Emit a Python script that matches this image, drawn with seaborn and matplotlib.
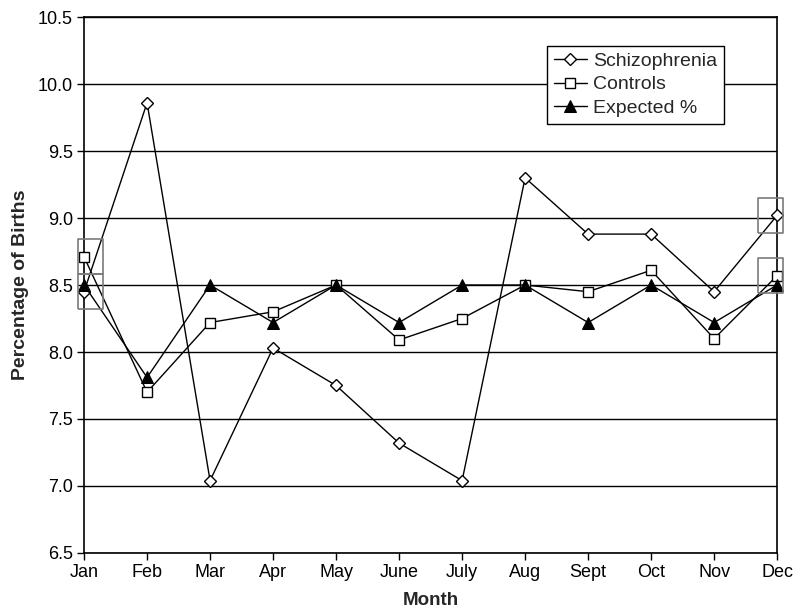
import numpy as np
import pandas as pd
import matplotlib
matplotlib.use("Agg")
import matplotlib.pyplot as plt
import matplotlib.transforms as mtransforms
import seaborn as sns
from matplotlib.path import Path

# ---- data ----
months = ['Jan', 'Feb', 'Mar', 'Apr', 'May', 'June', 'July', 'Aug', 'Sept', 'Oct', 'Nov', 'Dec']
schizophrenia = [8.45, 9.86, 7.04, 8.03, 7.75, 7.32, 7.04, 9.30, 8.88, 8.88, 8.45, 9.02]
controls = [8.71, 7.70, 8.22, 8.30, 8.50, 8.09, 8.25, 8.50, 8.45, 8.61, 8.10, 8.57]
expected = [8.50, 7.81, 8.50, 8.22, 8.50, 8.22, 8.50, 8.50, 8.22, 8.50, 8.22, 8.50]

# grey highlight boxes around the end points
box_jan = [8.71, 8.45]
box_dec = [9.02, 8.57]

y_ticks = np.arange(6.5, 10.51, 0.5)

sns.set_theme(style="white")
plt.rcParams['font.family'] = ['Liberation Sans', 'DejaVu Sans']

fig = plt.figure(figsize=(7.93, 6.09), dpi=100)
ax = fig.add_axes([0.106, 0.092, 0.874, 0.880])

df = pd.DataFrame({'Month': months, 'Schizophrenia': schizophrenia,
                   'Controls': controls, 'Expected %': expected})

sns.lineplot(data=df, x='Month', y='Schizophrenia', ax=ax, color='black', lw=1,
             marker='D', markersize=6.5, markerfacecolor='white', markeredgecolor='black',
             markeredgewidth=1, label='Schizophrenia', zorder=4, clip_on=False)
sns.lineplot(data=df, x='Month', y='Controls', ax=ax, color='black', lw=1,
             marker='s', markersize=7.5, markerfacecolor='white', markeredgecolor='black',
             markeredgewidth=1, label='Controls', zorder=4, clip_on=False)
sns.lineplot(data=df, x='Month', y='Expected %', ax=ax, color='black', lw=1,
             marker='^', markersize=8.5, markerfacecolor='black', markeredgecolor='black',
             label='Expected %', zorder=5, clip_on=False)

# tall rectangle marker for the highlight boxes, nudged a little inward
rect = Path([(-0.36, -0.5), (0.36, -0.5), (0.36, 0.5), (-0.36, 0.5), (-0.36, -0.5)])
for xpos, vals, dx in [(0, box_jan, 4.5), (len(months) - 1, box_dec, -5)]:
    shift = mtransforms.ScaledTranslation(dx / 72, 0, fig.dpi_scale_trans)
    ax.scatter([xpos] * len(vals), vals, marker=rect, s=640, facecolors='none',
               edgecolors='#7a7a7a', linewidths=1.2, zorder=6, clip_on=False,
               transform=ax.transData + shift)

ax.set_xlim(0, len(months) - 1)
ax.set_ylim(6.5, 10.5)
ax.set_yticks(y_ticks)
ax.set_yticklabels([f'{v:.1f}' for v in y_ticks])
ax.set_xticks(range(len(months)))
ax.set_xticklabels(months)

ax.grid(axis='y', color='black', lw=1)
ax.grid(axis='x', visible=False)
ax.set_axisbelow(True)
for s in ax.spines.values():
    s.set_color('black')
    s.set_linewidth(1.2)

ax.tick_params(axis='both', which='major', direction='out', length=5, width=1,
               color='black', labelsize=13, labelcolor='black', pad=3,
               bottom=True, left=True)

ax.set_xlabel('Month', fontsize=13.5, fontweight='bold', labelpad=8)
ax.set_ylabel('Percentage of Births', fontsize=14, fontweight='bold', labelpad=6)

leg = ax.legend(loc='upper right', bbox_to_anchor=(0.937, 0.965), frameon=True,
                fancybox=False, framealpha=1, edgecolor='black', fontsize=14,
                handlelength=1.7, handletextpad=0.3, borderpad=0.35, labelspacing=0.3)
leg.get_frame().set_linewidth(1)

fig.savefig('out.png', dpi=100)
